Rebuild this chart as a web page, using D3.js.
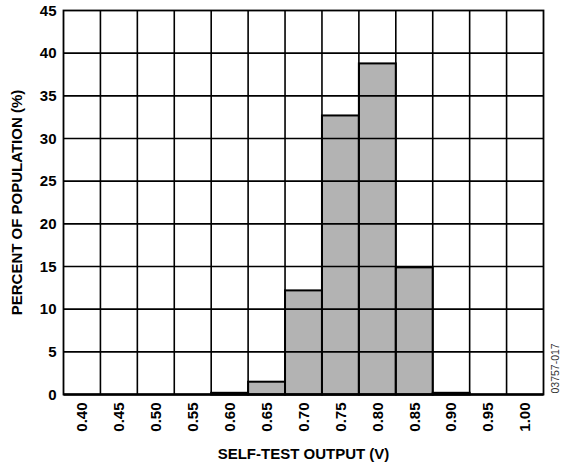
<!DOCTYPE html>
<html>
<head>
<meta charset="utf-8">
<script src="https://cdn.jsdelivr.net/npm/d3@7"></script>
<style>
  html, body { margin: 0; padding: 0; background: #fff; }
  svg { display: block; }
  text { font-family: "Liberation Sans", Arial, sans-serif; }
</style>
</head>
<body>
<svg id="chart" width="564" height="467"></svg>
<script>
// Self-test output distribution
const categories = ["0.40","0.45","0.50","0.55","0.60","0.65","0.70","0.75","0.80","0.85","0.90","0.95","1.00"];
const percents   = [0, 0, 0, 0, 0.2, 1.5, 12.2, 32.7, 38.8, 14.9, 0.2, 0, 0];
const yTicks     = [0, 5, 10, 15, 20, 25, 30, 35, 40, 45];

const svg = d3.select("#chart");
const plot = { left: 63.5, right: 543.5, top: 10.5, bottom: 394.5 };
const labelSize = 15;

const x = d3.scaleBand().domain(categories).range([plot.left, plot.right]).padding(0);
const y = d3.scaleLinear().domain([0, 45]).range([plot.bottom, plot.top]);

// bars
svg.append("g").selectAll("rect")
  .data(categories.map((c, i) => ({ c, v: percents[i] })).filter(d => d.v > 0))
  .join("rect")
  .attr("x", d => x(d.c))
  .attr("y", d => y(d.v))
  .attr("width", x.bandwidth())
  .attr("height", d => y(0) - y(d.v))
  .attr("fill", "#b3b3b3")
  .attr("stroke", "#000")
  .attr("stroke-width", 2);

// grid
const grid = svg.append("g").attr("stroke", "#000").attr("stroke-width", 1.6);
grid.selectAll("line.h").data(yTicks.slice(1, -1)).join("line")
  .attr("class", "h")
  .attr("x1", plot.left).attr("x2", plot.right)
  .attr("y1", d => y(d)).attr("y2", d => y(d));
grid.selectAll("line.v").data(categories.slice(1)).join("line")
  .attr("class", "v")
  .attr("x1", d => x(d)).attr("x2", d => x(d))
  .attr("y1", plot.top).attr("y2", plot.bottom);

// frame
svg.append("rect")
  .attr("x", plot.left).attr("y", plot.top)
  .attr("width", plot.right - plot.left).attr("height", plot.bottom - plot.top)
  .attr("fill", "none").attr("stroke", "#000").attr("stroke-width", 1.8);
svg.append("line")
  .attr("x1", plot.left).attr("x2", plot.right)
  .attr("y1", plot.bottom).attr("y2", plot.bottom)
  .attr("stroke", "#000").attr("stroke-width", 2.6);

// y axis labels
const yAxis = svg.append("g")
  .attr("transform", `translate(${plot.left},0)`)
  .call(d3.axisLeft(y).tickValues(yTicks).tickSize(0).tickPadding(7));
yAxis.select(".domain").remove();
yAxis.selectAll("text")
  .attr("font-size", labelSize).attr("font-weight", "bold")
  .attr("font-family", "Liberation Sans, Arial, sans-serif").attr("fill", "#000");

// x axis labels (rotated)
const xAxis = svg.append("g")
  .attr("transform", `translate(0,${plot.bottom})`)
  .call(d3.axisBottom(x).tickSize(0));
xAxis.select(".domain").remove();
xAxis.selectAll("text")
  .attr("font-size", labelSize).attr("font-weight", "bold")
  .attr("font-family", "Liberation Sans, Arial, sans-serif").attr("fill", "#000")
  .attr("transform", "rotate(-90)")
  .attr("text-anchor", "end")
  .attr("x", -8).attr("y", 0).attr("dy", "0.35em");

// axis titles
svg.append("text")
  .attr("x", (plot.left + plot.right) / 2).attr("y", 459)
  .attr("text-anchor", "middle")
  .attr("font-size", labelSize).attr("font-weight", "bold")
  .text("SELF-TEST OUTPUT (V)");

svg.append("text")
  .attr("transform", `translate(22,${(plot.top + plot.bottom) / 2}) rotate(-90)`)
  .attr("text-anchor", "middle")
  .attr("font-size", labelSize).attr("font-weight", "bold")
  .text("PERCENT OF POPULATION (%)");

svg.append("text")
  .attr("transform", `translate(558.5,${plot.bottom - 1}) rotate(-90)`)
  .attr("text-anchor", "start")
  .attr("font-size", 10.5).attr("fill", "#333")
  .text("03757-017");
</script>
</body>
</html>
